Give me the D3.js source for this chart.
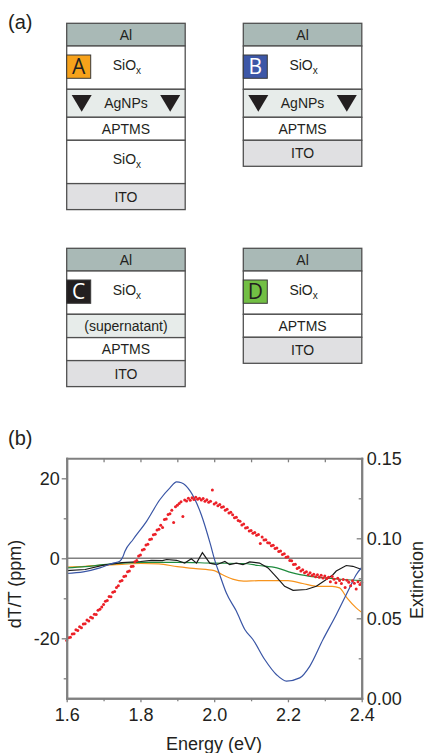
<!DOCTYPE html>
<html>
<head>
<meta charset="utf-8">
<script src="https://cdn.jsdelivr.net/npm/d3@7"></script>
<style>
  body { margin: 0; background: #fff; }
  text { font-family: "Liberation Sans", Arial, sans-serif; fill: #231f20; }
</style>
</head>
<body>
<script>
// ---- data ----
const panelLabels = ["(a)", "(b)"];
const devices = ["A", "B", "C", "D"];
const deviceLayers = [
  ["Al", "SiOx", "AgNPs", "APTMS", "SiOx", "ITO"],
  ["Al", "SiOx", "AgNPs", "APTMS", "ITO"],
  ["Al", "SiOx", "(supernatant)", "APTMS", "ITO"],
  ["Al", "SiOx", "APTMS", "ITO"]
];

// dT/T (ppm) traces, one per device
const energyA = [1.60, 1.65, 1.70, 1.75, 1.80, 1.85, 1.90, 1.95, 2.00, 2.02, 2.05, 2.08, 2.12, 2.20, 2.24, 2.28, 2.32, 2.34, 2.36, 2.385, 2.40];
const signalA = [-2.2, -2.0, -1.7, -1.5, -1.3, -1.4, -2.1, -2.6, -3.1, -4.0, -5.2, -5.7, -5.6, -5.6, -6.3, -7.0, -7.0, -7.4, -9.9, -12.4, -13.5];

const energyB = [1.60, 1.645, 1.69, 1.726, 1.744, 1.752, 1.758, 1.78, 1.817, 1.853, 1.88, 1.898, 1.911, 1.935, 1.965, 1.99, 2.00, 2.015, 2.033, 2.06, 2.083, 2.105, 2.137, 2.169, 2.196, 2.232, 2.259, 2.295, 2.331, 2.367, 2.385, 2.40];
const signalB = [-3.8, -3.4, -2.4, -1.2, -0.75, 0.3, 1.75, 4.7, 9.3, 14.7, 17.6, 19.1, 18.9, 16.8, 10.9, 3.4, 0.0, -4.1, -8.7, -13.2, -17.8, -20.3, -25.3, -29.1, -30.7, -29.9, -27.0, -20.3, -14.1, -7.4, -4.1, -2.3];

const energyC = [1.60, 1.65, 1.70, 1.75, 1.80, 1.83, 1.86, 1.871, 1.898, 1.92, 1.938, 1.952, 1.968, 1.988, 2.006, 2.029, 2.042, 2.06, 2.078, 2.096, 2.123, 2.146, 2.169, 2.191, 2.214, 2.25, 2.277, 2.304, 2.322, 2.331, 2.358, 2.376, 2.40];
const signalC = [-3.1, -2.8, -1.7, -1.1, -0.8, -0.5, -0.6, -0.3, -0.5, -1.2, -0.1, -1.2, 1.4, -1.2, -1.6, -0.8, -1.6, -1.2, -1.6, -0.9, -1.2, -2.4, -4.7, -7.0, -8.0, -7.8, -7.0, -5.3, -4.1, -3.2, -1.8, -2.0, -2.8];

const energyD = [1.60, 1.65, 1.70, 1.75, 1.80, 1.90, 2.00, 2.08, 2.12, 2.17, 2.21, 2.26, 2.30, 2.35, 2.40];
const signalD = [-2.4, -2.1, -1.6, -1.2, -1.0, -1.0, -1.2, -1.3, -1.8, -2.4, -3.6, -4.5, -4.9, -5.3, -5.6];

// extinction spectrum, sampled every 5 meV from 1.600 eV
const extinctionStart = 1.6;
const extinctionStep = 0.005;
const extinction = [
  0.0362, 0.0378, 0.0381, 0.0402, 0.0404, 0.0428, 0.0423, 0.0447, 0.0441, 0.0465,
  0.0466, 0.0489, 0.0483, 0.0507, 0.0502, 0.0526, 0.0524, 0.0551, 0.0556, 0.0571,
  0.0586, 0.0607, 0.0611, 0.0637, 0.0634, 0.0663, 0.0668, 0.0692, 0.0704, 0.0731,
  0.0737, 0.0762, 0.0764, 0.0791, 0.0796, 0.0824, 0.0826, 0.0853, 0.0861, 0.0889,
  0.0896, 0.0927, 0.0931, 0.0958, 0.0963, 0.0992, 0.0995, 0.1022, 0.1026, 0.1052,
  0.1057, 0.1082, 0.1068, 0.1117, 0.1121, 0.1148, 0.1154, 0.1176, 0.1099, 0.1197,
  0.1206, 0.1218, 0.1228, 0.1136, 0.1239, 0.1233, 0.1251, 0.1238, 0.1254, 0.1243,
  0.1256, 0.1244, 0.1251, 0.1239, 0.1249, 0.1232, 0.1241, 0.1226, 0.1231, 0.1302,
  0.1214, 0.1222, 0.1203, 0.1211, 0.1194, 0.1197, 0.1176, 0.1181, 0.1158, 0.1163,
  0.1147, 0.1129, 0.1132, 0.1111, 0.1106, 0.1083, 0.1089, 0.1064, 0.1068, 0.1046,
  0.1049, 0.1031, 0.1037, 0.1019, 0.1023, 0.0968, 0.1008, 0.0989, 0.0991, 0.0972,
  0.0971, 0.0954, 0.0957, 0.0936, 0.0939, 0.0917, 0.0921, 0.0899, 0.0903, 0.0881,
  0.0884, 0.0861, 0.0859, 0.0836, 0.0838, 0.0812, 0.0817, 0.0796, 0.0803, 0.0784,
  0.0791, 0.0772, 0.0784, 0.0768, 0.0776, 0.0759, 0.0772, 0.0757, 0.0769, 0.0752,
  0.0764, 0.0748, 0.0757, 0.0729, 0.0761, 0.0744, 0.0722, 0.0751, 0.0736, 0.0718,
  0.0742, 0.0693, 0.0738, 0.0726, 0.0704, 0.0735, 0.0719, 0.0683, 0.0728, 0.0712, 0.0724
];

const xTickLabels = [1.6, 1.8, 2.0, 2.2, 2.4];
const xMinorTicks = [1.7, 1.9, 2.1, 2.3];
const leftTickLabels = [-20, 0, 20];
const leftMinorTicks = [-30, -10, 10];
const rightTickLabels = [0, 0.05, 0.10, 0.15];
const rightMinorTicks = [0.025, 0.075, 0.125];

// ---- styles ----
const layerStyle = {
  "Al":            { h: 22.7, fill: "#a9b9b6", dy: 5 },
  "SiOx":          { h: 43.3, fill: "#ffffff", dy: 2.3 },
  "AgNPs":         { h: 28,   fill: "#e7ecea", dy: 5 },
  "(supernatant)": { h: 23.3, fill: "#e7ecea", dy: 5 },
  "APTMS":         { h: 23,   fill: "#ffffff", dy: 5 },
  "ITO":           { h: 26,   fill: "#e0e0e2", dy: 5 }
};
const badgeFill = { A: "#f7a21b", B: "#3d57a7", C: "#231f20", D: "#72bf44" };
const badgeText = { A: "#231f20", B: "#ffffff", C: "#ffffff", D: "#231f20" };
const stackX = [66.7, 243.3, 66.7, 243.3];
const stackY = [23.3, 23.3, 248.3, 248.3];
const stackW = 118.5;

const svg = d3.select("body").append("svg")
    .attr("width", 429)
    .attr("height", 753);

svg.append("text").attr("x", 8).attr("y", 29).style("font-size", "20px").text(panelLabels[0]);
svg.append("text").attr("x", 8).attr("y", 445).style("font-size", "20px").text(panelLabels[1]);

// ---- panel (a): layer stacks ----
devices.forEach(function(dev, i) {
  const g = svg.append("g").attr("transform", "translate(" + stackX[i] + "," + stackY[i] + ")");
  let y = 0;
  deviceLayers[i].forEach(function(name, j) {
    const st = layerStyle[name];
    g.append("rect")
        .attr("x", 0).attr("y", y)
        .attr("width", stackW).attr("height", st.h)
        .attr("fill", st.fill)
        .attr("stroke", "#505050")
        .attr("stroke-width", 1.3);

    const t = g.append("text")
        .attr("x", stackW / 2 + (name === "SiOx" ? 1 : 0))
        .attr("y", y + st.h / 2 + st.dy)
        .attr("text-anchor", "middle")
        .style("font-size", "14px");
    if (name === "SiOx") {
      t.append("tspan").text("SiO");
      t.append("tspan").attr("dy", 4).style("font-size", "10px").text("x");
    } else {
      t.text(name);
    }

    if (name === "AgNPs") {
      [5, stackW - 25].forEach(function(tx) {
        g.append("path")
            .attr("d", d3.line()([[tx, y + 5.7], [tx + 20, y + 5.7], [tx + 10, y + 22.4]]) + "Z")
            .attr("fill", "#231f20");
      });
    }

    if (j === 1) {
      g.append("rect")
          .attr("x", 0).attr("y", y + 9)
          .attr("width", 24).attr("height", 23.3)
          .attr("fill", badgeFill[dev])
          .attr("stroke", "#3a3a3a")
          .attr("stroke-width", 1);
      g.append("text")
          .attr("x", 12).attr("y", y + 9 + 19.5)
          .attr("text-anchor", "middle")
          .style("font-family", "'Open Sans', sans-serif")
          .style("font-size", "21px")
          .style("fill", badgeText[dev])
          .text(dev);
    }
    y += st.h;
  });
});

// ---- panel (b): spectra ----
const x = d3.scaleLinear().domain([1.6, 2.4]).range([66.7, 361.7]);
const yL = d3.scaleLinear().domain([-35, 25]).range([698.3, 458.3]);
const yR = d3.scaleLinear().domain([0, 0.15]).range([698.3, 458.3]);

svg.append("line")
    .attr("x1", x(1.6)).attr("x2", x(2.4))
    .attr("y1", yL(0)).attr("y2", yL(0))
    .attr("stroke", "#808080")
    .attr("stroke-width", 1.6);

const traces = [
  { e: energyA, v: signalA, color: "#f7941d", curve: d3.curveMonotoneX },
  { e: energyD, v: signalD, color: "#1f8b3e", curve: d3.curveMonotoneX },
  { e: energyC, v: signalC, color: "#1a1a1a", curve: d3.curveLinear },
  { e: energyB, v: signalB, color: "#3955a5", curve: d3.curveMonotoneX }
];
traces.forEach(function(tr) {
  const line = d3.line()
      .x(function(d) { return x(d[0]); })
      .y(function(d) { return yL(d[1]); })
      .curve(tr.curve);
  svg.append("path")
      .datum(d3.zip(tr.e, tr.v))
      .attr("d", line)
      .attr("fill", "none")
      .attr("stroke", tr.color)
      .attr("stroke-width", 1.2);
});

svg.append("g").selectAll("circle")
    .data(extinction)
  .enter().append("circle")
    .attr("cx", function(d, i) { return x(extinctionStart + i * extinctionStep); })
    .attr("cy", function(d) { return yR(d); })
    .attr("r", 1.5)
    .attr("fill", "#ec2028");

// axes
function styleAxis(g) {
  g.select(".domain").attr("stroke", "#808080").attr("stroke-width", 2).attr("stroke-linecap", "square");
  g.selectAll(".tick line").attr("stroke", "#808080").attr("stroke-width", 1.3);
  g.selectAll(".tick text")
      .style("font-family", "'Liberation Sans', Arial, sans-serif")
      .style("font-size", "18px")
      .attr("fill", "#231f20");
}

svg.append("g")
    .attr("transform", "translate(0," + yL(-35) + ")")
    .call(d3.axisBottom(x).tickValues(xMinorTicks).tickSizeInner(3).tickSizeOuter(0).tickFormat(""))
    .call(styleAxis);
svg.append("g")
    .attr("transform", "translate(0," + yL(-35) + ")")
    .call(d3.axisBottom(x).tickValues(xTickLabels).tickSizeInner(4).tickSizeOuter(0).tickPadding(6).tickFormat(d3.format(".1f")))
    .call(styleAxis);
svg.append("g")
    .attr("transform", "translate(0," + yL(25) + ")")
    .call(d3.axisTop(x).tickValues(xTickLabels.concat(xMinorTicks)).tickSizeInner(-4).tickSizeOuter(0).tickFormat(""))
    .call(styleAxis);
svg.append("g")
    .attr("transform", "translate(" + x(1.6) + ",0)")
    .call(d3.axisLeft(yL).tickValues(leftMinorTicks).tickSizeInner(3).tickSizeOuter(0).tickFormat(""))
    .call(styleAxis);
svg.append("g")
    .attr("transform", "translate(" + x(1.6) + ",0)")
    .call(d3.axisLeft(yL).tickValues(leftTickLabels).tickSizeInner(5).tickSizeOuter(0).tickPadding(2).tickFormat(function(d) { return String(d); }))
    .call(styleAxis);
svg.append("g")
    .attr("transform", "translate(" + x(2.4) + ",0)")
    .call(d3.axisRight(yR).tickValues(rightMinorTicks).tickSizeInner(-3).tickSizeOuter(0).tickFormat(""))
    .call(styleAxis);
svg.append("g")
    .attr("transform", "translate(" + x(2.4) + ",0)")
    .call(d3.axisRight(yR).tickValues(rightTickLabels).tickSizeInner(-5).tickSizeOuter(0).tickPadding(5).tickFormat(d3.format(".2f")))
    .call(styleAxis);

// axis titles
svg.append("text")
    .attr("transform", "translate(21,584)rotate(-90)")
    .attr("text-anchor", "middle")
    .style("font-size", "18px")
    .text("dT/T (ppm)");
svg.append("text")
    .attr("transform", "translate(423,580)rotate(-90)")
    .attr("text-anchor", "middle")
    .style("font-size", "18px")
    .text("Extinction");
svg.append("text")
    .attr("x", 214).attr("y", 750)
    .attr("text-anchor", "middle")
    .style("font-size", "18px")
    .text("Energy (eV)");
</script>
</body>
</html>
